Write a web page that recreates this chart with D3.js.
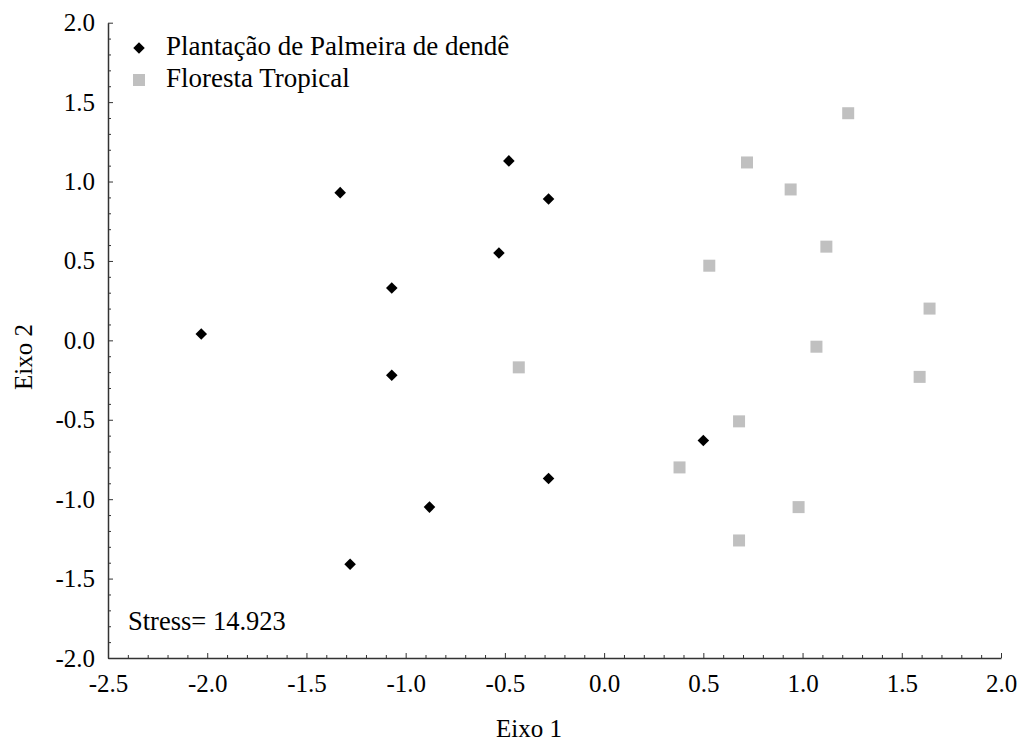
<!DOCTYPE html>
<html>
<head>
<meta charset="utf-8">
<script src="https://cdn.jsdelivr.net/npm/d3@7"></script>
<style>
    body { margin: 0; background: #fff; }
    svg { display: block; }
    .axis path, .axis line { stroke: #333; }
    .tick text { font-family: "Liberation Serif", "Times New Roman", serif !important; font-size: 25px !important; fill: #000; }
</style>
</head>
<body>
<div id="chart-area"></div>
<script>
// NMDS scores
const palmX = [-2.03, -1.33, -0.48, -0.28, -0.53, -1.07, -1.07, 0.50, -0.28, -0.88, -1.28];
const palmY = [0.04, 0.93, 1.13, 0.89, 0.55, 0.33, -0.22, -0.63, -0.87, -1.05, -1.41];

const forestX = [1.23, 0.72, 0.94, 1.12, 0.53, 1.64, 1.07, 1.59, -0.43, 0.68, 0.38, 0.98, 0.68];
const forestY = [1.43, 1.12, 0.95, 0.59, 0.47, 0.20, -0.04, -0.23, -0.17, -0.51, -0.80, -1.05, -1.26];

const seriesNames = ["Plantação de Palmeira de dendê", "Floresta Tropical"];
const xTicks = [-2.5, -2.0, -1.5, -1.0, -0.5, 0.0, 0.5, 1.0, 1.5, 2.0];
const yTicks = [-2.0, -1.5, -1.0, -0.5, 0.0, 0.5, 1.0, 1.5, 2.0];
const stressLabel = "Stress= 14.923";

const serif = "Liberation Serif";

function drawChart() {
    const width = 1022, height = 742;
    const left = 108, right = 1001, top = 22.7, bottom = 658;

    const svg = d3.select("#chart-area")
        .append("svg")
        .attr("width", width)
        .attr("height", height)
        .attr("font-family", serif);

    const x = d3.scaleLinear().domain([-2.5, 2.0]).range([left, right]);
    const y = d3.scaleLinear().domain([-2.0, 2.0]).range([bottom, top]);

    const fmt = d => d.toFixed(1);

    // minor ticks every 0.1
    const xMinor = d3.range(-25, 21).map(i => i / 10).filter(v => !xTicks.some(t => Math.abs(t - v) < 1e-9));
    const yMinor = d3.range(-20, 21).map(i => i / 10).filter(v => !yTicks.some(t => Math.abs(t - v) < 1e-9));

    svg.append("g")
        .attr("class", "axis")
        .attr("transform", `translate(0,${bottom})`)
        .call(d3.axisBottom(x).tickValues(xMinor).tickSize(-3).tickFormat(() => ""))
        .call(g => g.select(".domain").remove());

    svg.append("g")
        .attr("class", "axis")
        .attr("transform", `translate(${left},0)`)
        .call(d3.axisLeft(y).tickValues(yMinor).tickSize(-3).tickFormat(() => ""))
        .call(g => g.select(".domain").remove());

    // X axis
    const xAxis = svg.append("g")
        .attr("class", "axis x-axis")
        .attr("transform", `translate(0,${bottom})`)
        .call(d3.axisBottom(x).tickValues(xTicks).tickFormat(fmt).tickSizeInner(-5).tickSizeOuter(0).tickPadding(16));
    xAxis.attr("font-family", serif).attr("font-size", 25);

    // Y axis
    const yAxis = svg.append("g")
        .attr("class", "axis y-axis")
        .attr("transform", `translate(${left},0)`)
        .call(d3.axisLeft(y).tickValues(yTicks).tickFormat(fmt).tickSizeInner(-5).tickSizeOuter(0).tickPadding(13));
    yAxis.attr("font-family", serif).attr("font-size", 25);

    svg.selectAll(".domain").attr("stroke-width", 1.5);

    // Axis titles
    svg.append("text")
        .attr("x", 529)
        .attr("y", 737)
        .attr("text-anchor", "middle")
        .attr("font-size", 25)
        .text("Eixo 1");

    svg.append("text")
        .attr("transform", "translate(32,357) rotate(-90)")
        .attr("text-anchor", "middle")
        .attr("font-size", 25)
        .text("Eixo 2");

    const diamond = d3.symbol().type(d3.symbolDiamond2).size(85);

    // Forest points (grey squares)
    svg.selectAll(".forest")
        .data(forestX.map((v, i) => ({ x: v, y: forestY[i] })))
        .enter()
        .append("rect")
        .attr("class", "forest")
        .attr("x", d => x(d.x) - 6)
        .attr("y", d => y(d.y) - 6)
        .attr("width", 12)
        .attr("height", 12)
        .attr("fill", "#c0c0c0");

    // Palm plantation points (black diamonds)
    svg.selectAll(".palm")
        .data(palmX.map((v, i) => ({ x: v, y: palmY[i] })))
        .enter()
        .append("path")
        .attr("class", "palm")
        .attr("d", diamond)
        .attr("transform", d => `translate(${x(d.x)},${y(d.y)})`)
        .attr("fill", "#000");

    // Legend
    const legend = svg.append("g").attr("transform", "translate(139,48)");
    legend.append("path")
        .attr("d", diamond)
        .attr("fill", "#000");
    legend.append("text")
        .attr("x", 27)
        .attr("y", 6.5)
        .attr("font-size", 27)
        .text(seriesNames[0]);
    legend.append("rect")
        .attr("x", -6)
        .attr("y", 32 - 6)
        .attr("width", 12)
        .attr("height", 12)
        .attr("fill", "#c0c0c0");
    legend.append("text")
        .attr("x", 27)
        .attr("y", 38.5)
        .attr("font-size", 27)
        .text(seriesNames[1]);

    svg.append("text")
        .attr("x", 128)
        .attr("y", 630)
        .attr("font-size", 26.5)
        .text(stressLabel);
}

drawChart();
</script>
</body>
</html>
